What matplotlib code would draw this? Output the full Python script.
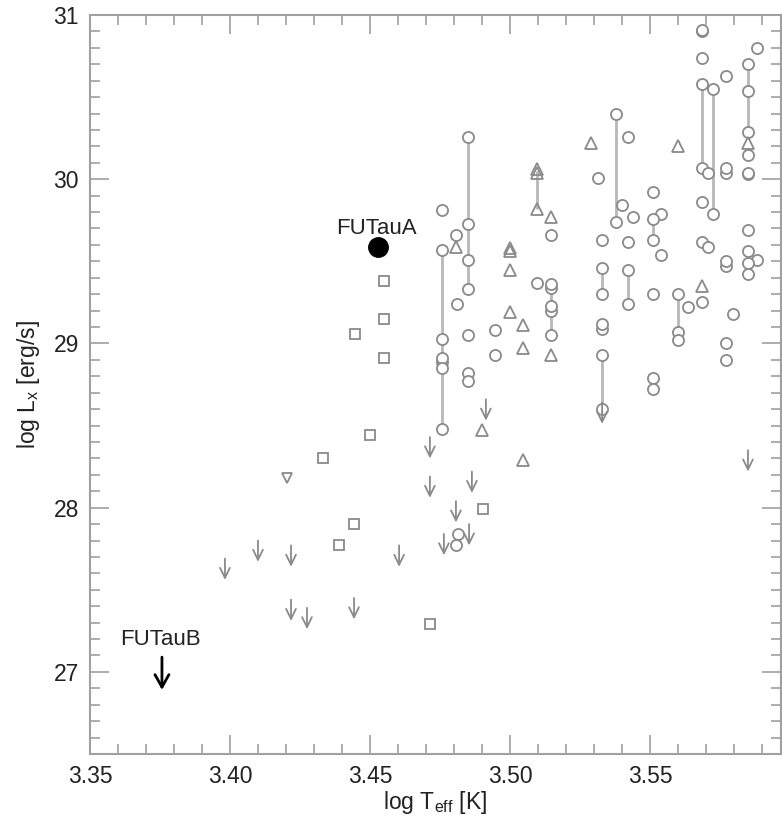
import matplotlib
matplotlib.use('Agg')
import matplotlib.pyplot as plt
from matplotlib.ticker import MultipleLocator

plt.rcParams['font.family'] = ['Liberation Sans', 'DejaVu Sans']
plt.rcParams['mathtext.fontset'] = 'custom'
plt.rcParams['mathtext.rm'] = 'Liberation Sans'
plt.rcParams['mathtext.it'] = 'Liberation Sans'

# detections, circles
circ_t = [3.5686, 3.5686, 3.5882, 3.5686, 3.585, 3.5771, 3.5686, 3.5725, 3.585, 3.5379,
          3.585, 3.5421, 3.485, 3.585, 3.5686, 3.5707, 3.5771, 3.5771, 3.585, 3.585,
          3.5314, 3.5511, 3.5686, 3.54, 3.4757, 3.5725, 3.5539, 3.5439, 3.5511, 3.5379,
          3.485, 3.585, 3.4807, 3.5146, 3.5511, 3.5329, 3.5421, 3.5686, 3.5707, 3.4757,
          3.585, 3.5539, 3.5882, 3.485, 3.585, 3.5771, 3.5771, 3.5329, 3.5421, 3.585,
          3.5096, 3.5146, 3.5146, 3.485, 3.5329, 3.5511, 3.56, 3.5686, 3.4811, 3.5421,
          3.5636, 3.5146, 3.5146, 3.5796, 3.5329, 3.5329, 3.4946, 3.56, 3.485, 3.5146,
          3.56, 3.4757, 3.5771, 3.4946, 3.5329, 3.4757, 3.4757, 3.5771, 3.4757, 3.485,
          3.5511, 3.485, 3.5511, 3.5329, 3.4757, 3.4814, 3.4807]
circ_l = [30.90, 30.91, 30.80, 30.74, 30.70, 30.63, 30.58, 30.55, 30.54, 30.40,
          30.29, 30.26, 30.26, 30.15, 30.07, 30.04, 30.04, 30.07, 30.03, 30.04,
          30.01, 29.92, 29.86, 29.84, 29.81, 29.79, 29.79, 29.77, 29.76, 29.74,
          29.73, 29.69, 29.66, 29.66, 29.63, 29.63, 29.62, 29.62, 29.59, 29.57,
          29.56, 29.54, 29.51, 29.51, 29.49, 29.47, 29.50, 29.46, 29.45, 29.42,
          29.37, 29.34, 29.36, 29.33, 29.30, 29.30, 29.30, 29.25, 29.24, 29.24,
          29.22, 29.20, 29.23, 29.18, 29.09, 29.12, 29.08, 29.07, 29.05, 29.05,
          29.02, 29.03, 29.00, 28.93, 28.93, 28.89, 28.91, 28.90, 28.85, 28.82,
          28.79, 28.77, 28.72, 28.60, 28.48, 27.84, 27.77]

# triangles
tri_t = [3.529, 3.56, 3.585, 3.5096, 3.5096, 3.5096, 3.5146, 3.4807, 3.50, 3.50,
         3.50, 3.5686, 3.50, 3.5046, 3.5046, 3.5146, 3.49, 3.5046]
tri_l = [30.22, 30.20, 30.22, 30.04, 30.06, 29.82, 29.77, 29.59, 29.56, 29.58,
         29.45, 29.35, 29.19, 29.11, 28.97, 28.93, 28.47, 28.29]

# inverted triangle
itri_t = [3.4204]
itri_l = [28.18]

# squares
sq_t = [3.455, 3.455, 3.455, 3.4446, 3.45, 3.4332, 3.4443, 3.4389, 3.4714, 3.4904]
sq_l = [29.38, 29.15, 28.91, 29.06, 28.445, 28.30, 27.90, 27.77, 27.29, 27.99]

# upper limits
ul_t = [3.3982, 3.41, 3.4218, 3.4218, 3.4275, 3.4443, 3.4604, 3.4714, 3.4714, 3.4764,
        3.4807, 3.4854, 3.4864, 3.4914, 3.585, 3.5329]
ul_l = [27.69, 27.80, 27.77, 27.44, 27.39, 27.45, 27.77, 28.43, 28.19, 27.84,
        28.04, 27.90, 28.22, 28.66, 28.35, 28.64]

# variability ranges: (logT, top, bottom)
var_t = [3.4757, 3.485, 3.5096, 3.5146, 3.5379, 3.5329, 3.5421, 3.5329, 3.5511, 3.56,
         3.5686, 3.5725, 3.585]
var_top = [29.57, 30.26, 30.05, 29.35, 30.40, 29.46, 29.45, 28.93, 29.76, 29.30,
           30.58, 30.55, 30.70]
var_bot = [28.48, 29.33, 29.82, 29.05, 29.74, 29.30, 29.24, 28.60, 29.63, 29.06,
           30.07, 29.79, 30.29]

futau_a = (3.4529, 29.59)
futau_b = (3.3757, 27.09)

gray = '#8a8a8a'
axcol = '#a0a0a0'
txt = '#222222'

fig = plt.figure(figsize=(7.82, 8.17), dpi=100)
ax = fig.add_axes([90 / 782, 63 / 817, 691 / 782, 739 / 817])

ax.vlines(var_t, var_bot, var_top, colors='#b8b8b8', lw=2.0, zorder=1)

ax.plot(circ_t, circ_l, 'o', ms=8, mfc='white', mec=gray, mew=1.3, ls='none', zorder=2)
ax.plot(tri_t, tri_l, '^', ms=8.5, mfc='none', mec=gray, mew=1.3, ls='none', zorder=3)
ax.plot(itri_t, itri_l, 'v', ms=7, mfc='none', mec=gray, mew=1.3, ls='none', zorder=3)
ax.plot(sq_t, sq_l, 's', ms=7.5, mfc='none', mec=gray, mew=1.3, ls='none', zorder=3)

for t, l in zip(ul_t, ul_l):
    ax.annotate('', xy=(t, l - 0.13), xytext=(t, l),
                arrowprops=dict(arrowstyle='->, head_length=0.45, head_width=0.22',
                                color=gray, lw=1.3, shrinkA=0, shrinkB=0,
                                mutation_scale=16))

ax.plot(*futau_a, 'o', ms=14, color='black', zorder=5)
ax.text(futau_a[0] - 0.0005, futau_a[1] + 0.075, 'FUTauA', ha='center', va='baseline',
        fontsize=16, color=txt)

ax.annotate('', xy=(futau_b[0], futau_b[1] - 0.2), xytext=futau_b,
            arrowprops=dict(arrowstyle='->, head_length=0.5, head_width=0.28',
                            color='black', lw=2.0, shrinkA=0, shrinkB=0,
                            mutation_scale=18))
ax.text(futau_b[0] - 0.0005, futau_b[1] + 0.075, 'FUTauB', ha='center', va='baseline',
        fontsize=16, color=txt)

ax.set_xlim(3.35, 3.5968)
ax.set_ylim(26.5, 31.0)
ax.xaxis.set_major_locator(MultipleLocator(0.05))
ax.xaxis.set_minor_locator(MultipleLocator(0.01))
ax.yaxis.set_major_locator(MultipleLocator(1))
ax.yaxis.set_minor_locator(MultipleLocator(0.1))
ax.xaxis.set_major_formatter(plt.FormatStrFormatter('%.2f'))
ax.yaxis.set_major_formatter(plt.FormatStrFormatter('%d'))

ax.tick_params(which='both', direction='in', top=True, right=True, color=axcol,
               width=1.2, labelsize=16.5, labelcolor=txt)
ax.tick_params(which='major', length=14, pad=8)
ax.tick_params(which='minor', length=7)
for s in ax.spines.values():
    s.set_color(axcol)
    s.set_linewidth(1.5)

ax.set_xlabel(r'log T$_{\rm eff}$ [K]', fontsize=16.5, color=txt, labelpad=1)
ax.set_ylabel(r'log L$_{\rm x}$ [erg/s]', fontsize=16.5, color=txt, labelpad=8)

fig.savefig('out.png', dpi=100)
